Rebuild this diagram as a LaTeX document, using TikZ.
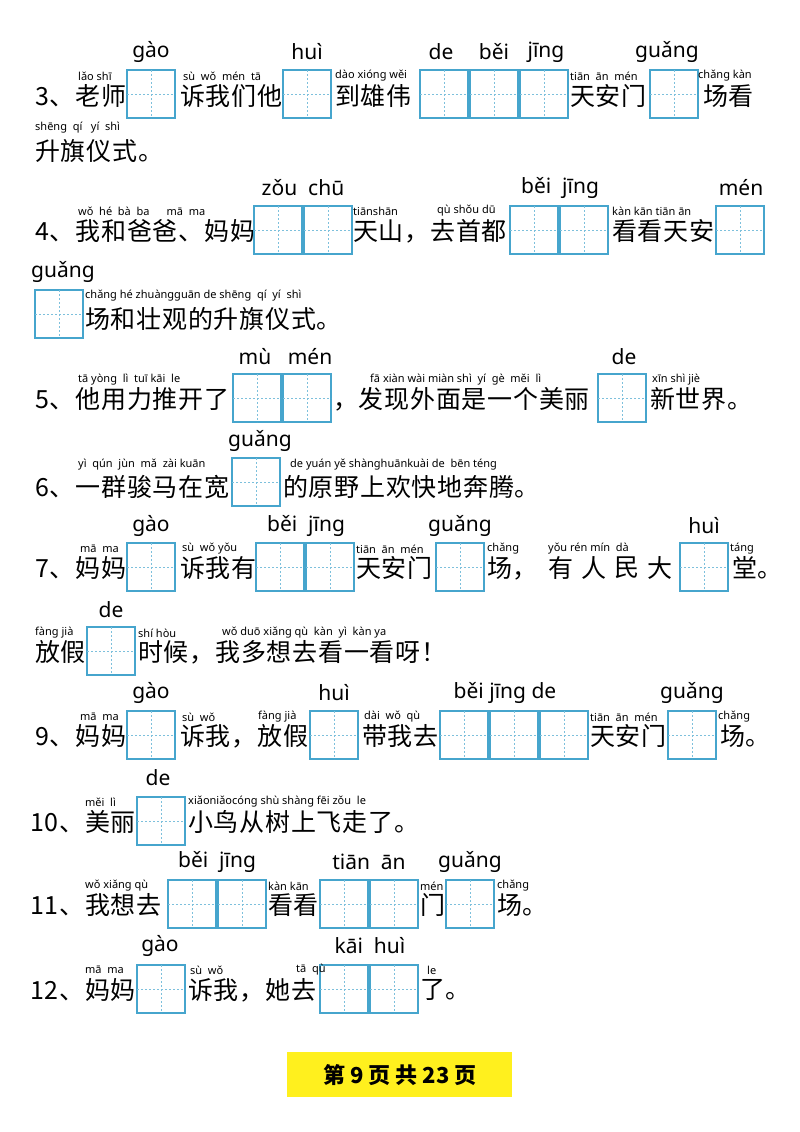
\documentclass[tikz,border=0pt]{standalone}
\usepackage{fontspec}
\setmainfont{Noto Sans}
\newfontfamily\cjk[LetterSpace=3]{Noto Sans CJK SC}
\newfontfamily\cjkb{Noto Sans CJK SC}
\definecolor{gridblue}{RGB}{70,165,205}
\definecolor{footy}{RGB}{255,240,30}
\newcommand\tzg[2]{\draw[gridblue,line width=1.4pt] (#1,#2) rectangle ++(48,48);
 \draw[gridblue!70,dashed,line width=0.6pt,dash pattern=on 2pt off 2pt] (#1+24,#2) -- ++(0,48) (#1,#2+24) -- ++(48,0);}
\newcommand\cn[3]{\node[anchor=west,inner sep=0,font=\cjk\fontsize{25}{25}\selectfont] at (#1,#2) {#3};}
\newcommand\py[3]{\node[anchor=west,inner sep=0,font=\fontsize{11}{11}\selectfont] at (#1,#2) {#3};}
\newcommand\bp[3]{\node[inner sep=0,font=\fontsize{21}{21}\selectfont] at (#1,#2) {#3};}
\begin{document}
\begin{tikzpicture}[x=1pt,y=-1pt]
\fill[white] (0,0) rectangle (800,1132);
\useasboundingbox (0,0) rectangle (800,1132);
% line 3
\cn{35}{96}{3、老师}\tzg{127}{70}\cn{180}{96}{诉我们他}\tzg{283}{70}\cn{335}{96}{到雄伟}
\tzg{420}{70}\tzg{470}{70}\tzg{520}{70}\cn{570}{96}{天安门}\tzg{650}{70}\cn{703}{96}{场看}
\py{78}{76}{lǎo shī}\py{183}{76}{sù\ \ wǒ\ \ mén\ \ tā}\py{335}{76}{dào xióng wěi}\py{570}{76}{tiān\ \ ān\ \ mén}\py{698}{76}{chǎng kàn}
\bp{151}{52}{gào}\bp{307}{52}{huì}\bp{441}{52}{de}\bp{494}{52}{běi}\bp{546}{52}{jīng}\bp{667}{52}{guǎng}
\py{35}{128}{shēng\ \ qí\ \ \ yí\ \ shì}\cn{35}{151}{升旗仪式。}
% line 4
\cn{35}{231}{4、我和爸爸、妈妈}\tzg{254}{206}\tzg{304}{206}\cn{353}{231}{天山，去首都}
\tzg{510}{206}\tzg{560}{206}\cn{612}{231}{看看天安}\tzg{716}{206}
\py{78}{211}{wǒ\ \ hé\ \ bà\ \ ba\ \ \ \ \ \ mā\ \ ma}\py{353}{211}{tiānshān}\py{437}{211}{qù shǒu dū}\py{612}{211}{kàn kān tiān ān}
\bp{303}{188}{zǒu\ \ chū}\bp{560}{188}{běi\ \ jīng}\bp{741}{188}{mén}
\bp{63}{272}{guǎng}\tzg{35}{290}\py{85}{296}{chǎng hé zhuàngguān de shēng\ \ qí\ \ yí\ \ shì}\cn{85}{319}{场和壮观的升旗仪式。}
% line 5
\cn{35}{399}{5、他用力推开了}\tzg{233}{374}\tzg{283}{374}\cn{333}{399}{，发现外面是一个美丽}\tzg{598}{374}\cn{650}{399}{新世界。}
\py{78}{380}{tā yòng\ \ lì\ \ tuī\ kāi\ \ le}\py{370}{380}{fā xiàn wài miàn shì\ \ yí\ \ gè\ \ měi\ \ lì}\py{652}{380}{xīn shì jiè}
\bp{255}{357}{mù}\bp{310}{357}{mén}\bp{624}{357}{de}
% line 6
\cn{35}{487}{6、一群骏马在宽}\tzg{232}{458}\cn{283}{487}{的原野上欢快地奔腾。}
\py{78}{465}{yì\ \ qún\ \ jùn\ \ mǎ\ \ zài kuān}\py{290}{465}{de yuán yě\ shànghuānkuài\ de\ \ bēn téng}
\bp{260}{441}{guǎng}
% line 7
\cn{35}{568}{7、妈妈}\tzg{127}{543}\cn{180}{568}{诉我有}\tzg{256}{543}\tzg{306}{543}\cn{356}{568}{天安门}\tzg{436}{543}
\cn{487}{568}{场，}\cn{548}{568}{有}\cn{581}{568}{人}\cn{614}{568}{民}\cn{647}{568}{大}\tzg{680}{543}\cn{732}{568}{堂。}
\py{80}{549}{mā\ \ ma}\py{182}{549}{sù\ \ wǒ\ yǒu}\py{356}{549}{tiān\ \ ān\ \ mén}\py{487}{549}{chǎng}\py{548}{549}{yǒu rén\ mín\ \ dà}\py{730}{549}{táng}
\bp{151}{526}{gào}\bp{306}{526}{běi\ \ jīng}\bp{460}{526}{guǎng}\bp{704}{526}{huì}
% line 8
\bp{111}{610}{de}\tzg{87}{627}\cn{35}{652}{放假}\cn{138}{652}{时候，我多想去看一看呀！}
\py{35}{633}{fàng jià}\py{138}{633}{shí hòu}\py{222}{633}{wǒ\ duō xiǎng\ qù\ \ kàn\ \ yì\ \ kàn\ ya}
% line 9
\cn{35}{736}{9、妈妈}\tzg{127}{711}\cn{180}{736}{诉我，放假}\tzg{310}{711}\cn{362}{736}{带我去}
\tzg{440}{711}\tzg{490}{711}\tzg{540}{711}\cn{590}{736}{天安门}\tzg{668}{711}\cn{720}{736}{场。}
\py{80}{717}{mā\ \ ma}\py{182}{717}{sù\ \ wǒ}\py{258}{717}{fàng jià}\py{364}{717}{dài\ \ wǒ\ \ qù}\py{590}{717}{tiān\ \ ān\ \ mén}\py{718}{717}{chǎng}
\bp{151}{693}{gào}\bp{334}{693}{huì}\bp{505}{693}{běi\ jīng\ de}\bp{692}{693}{guǎng}
% line 10
\cn{30}{822}{10、美丽}\tzg{137}{797}\cn{188}{822}{小鸟从树上飞走了。}
\py{85}{802}{měi\ \ lì}\py{188}{802}{xiǎoniǎocóng shù shàng fēi zǒu\ \ le}\bp{158}{778}{de}
% line 11
\cn{30}{905}{11、我想去}\tzg{168}{880}\tzg{218}{880}\cn{268}{905}{看看}\tzg{320}{880}\tzg{370}{880}\cn{420}{905}{门}\tzg{446}{880}\cn{497}{905}{场。}
\py{85}{886}{wǒ xiǎng qù}\py{268}{886}{kàn kān}\py{420}{886}{mén}\py{497}{886}{chǎng}
\bp{217}{862}{běi\ \ jīng}\bp{369}{862}{tiān\ \ ān}\bp{470}{862}{guǎng}
% line 12
\cn{30}{990}{12、妈妈}\tzg{137}{965}\cn{188}{990}{诉我，她去}\tzg{320}{965}\tzg{370}{965}\cn{420}{990}{了。}
\py{85}{970}{mā\ \ ma}\py{190}{970}{sù\ \ wǒ}\py{296}{970}{tā\ \ qù}\py{427}{970}{le}
\bp{160}{946}{gào}\bp{370}{946}{kāi\ \ huì}
% footer
\fill[footy] (287,1052) rectangle (512,1097);
\node[font=\cjkb\bfseries\fontsize{22}{22}\selectfont,inner sep=0] (foot) at (400,1075) {第 9 页 共 23 页};
\end{tikzpicture}
\end{document}
